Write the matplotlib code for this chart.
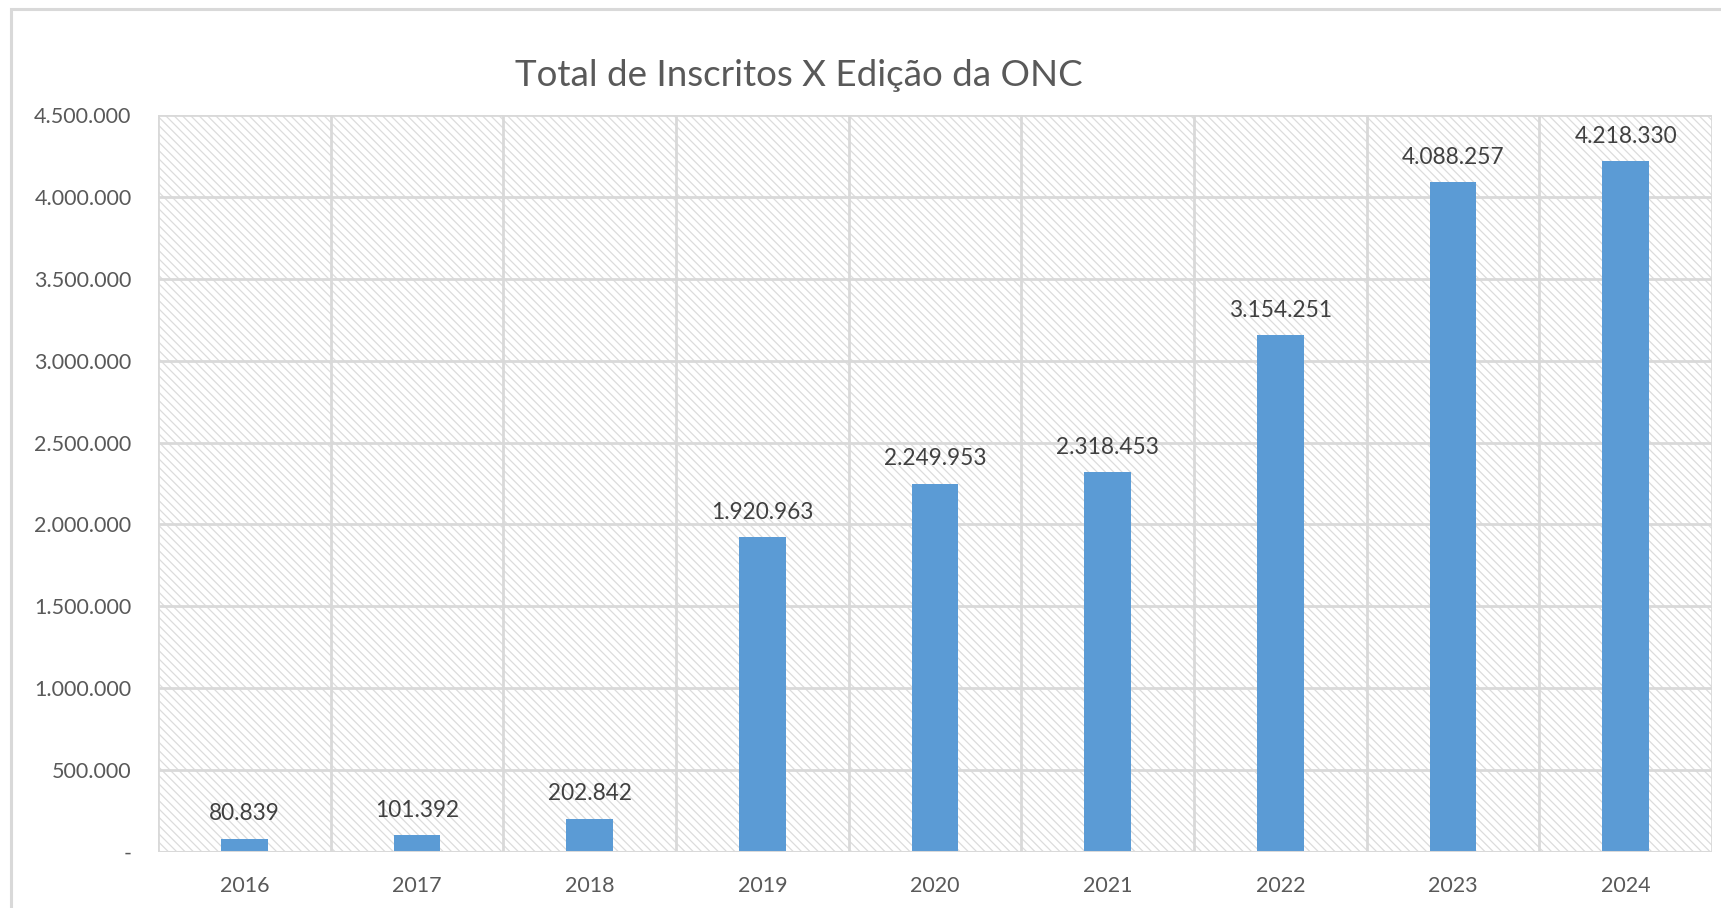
import matplotlib.pyplot as plt
from matplotlib.patches import Rectangle
from matplotlib.ticker import FuncFormatter, MultipleLocator

anos = ['2016', '2017', '2018', '2019', '2020', '2021', '2022', '2023', '2024']
inscritos = [80839, 101392, 202842, 1920963, 2249953, 2318453, 3154251, 4088257, 4218330]

plt.rcParams['font.family'] = ['Lato', 'DejaVu Sans']
plt.rcParams['hatch.linewidth'] = 0.9
plt.rcParams['hatch.color'] = '#dcdcdc'

cinza_txt = '#595959'
cinza_grade = '#d9d9d9'
azul = '#5b9bd5'


def fmt_br(v):
    return f'{int(round(v)):,}'.replace(',', '.')


fig = plt.figure(figsize=(17.21, 9.08), dpi=100)

# borda externa do gráfico (estilo Excel), cortada à direita e embaixo
topo = 1 - 9 / 908
fig.patches.append(Rectangle((11 / 1721, -0.05), 1.2, topo + 0.05,
                             transform=fig.transFigure, fill=False,
                             edgecolor=cinza_grade, linewidth=2.2))

ax = fig.add_axes([158 / 1721, 1 - 852 / 908, (1712 - 158) / 1721, (852 - 115) / 908])
ax.set_facecolor('white')
ax.patch.set_hatch('\\\\\\\\')
ax.patch.set_edgecolor('#dcdcdc')
ax.patch.set_linewidth(0)

x = list(range(len(anos)))
ax.bar(x, inscritos, width=0.27, color=azul, zorder=3)

ax.set_xlim(-0.5, len(anos) - 0.5)
ax.set_ylim(0, 4500000)
ax.yaxis.set_major_locator(MultipleLocator(500000))
ax.yaxis.set_major_formatter(FuncFormatter(lambda v, p: '-' if v == 0 else fmt_br(v)))

# grade horizontal e vertical entre categorias
for yv in range(500000, 4500001, 500000):
    ax.axhline(yv, color=cinza_grade, linewidth=2, zorder=2)
for xv in range(len(anos) + 1):
    ax.axvline(xv - 0.5, color=cinza_grade, linewidth=2, zorder=2)

for s in ax.spines.values():
    s.set_visible(False)
ax.axhline(0, color=cinza_grade, linewidth=2.2, zorder=4)

ax.set_xticks(x)
ax.set_xticklabels(anos)
ax.tick_params(axis='both', length=0, labelsize=15.5, colors=cinza_txt)
ax.tick_params(axis='x', pad=17)
ax.tick_params(axis='y', pad=19)

for xi, v in zip(x, inscritos):
    ax.annotate(fmt_br(v), (xi, v), xytext=(0, 18), textcoords='offset points',
                ha='center', va='center', fontsize=16.3, color='#404040', zorder=5)

fig.text(0.464, 0.917, 'Total de Inscritos X Edição da ONC', ha='center', va='center',
         fontsize=26.5, color=cinza_txt)

fig.savefig('out.png', dpi=100, facecolor='white')
